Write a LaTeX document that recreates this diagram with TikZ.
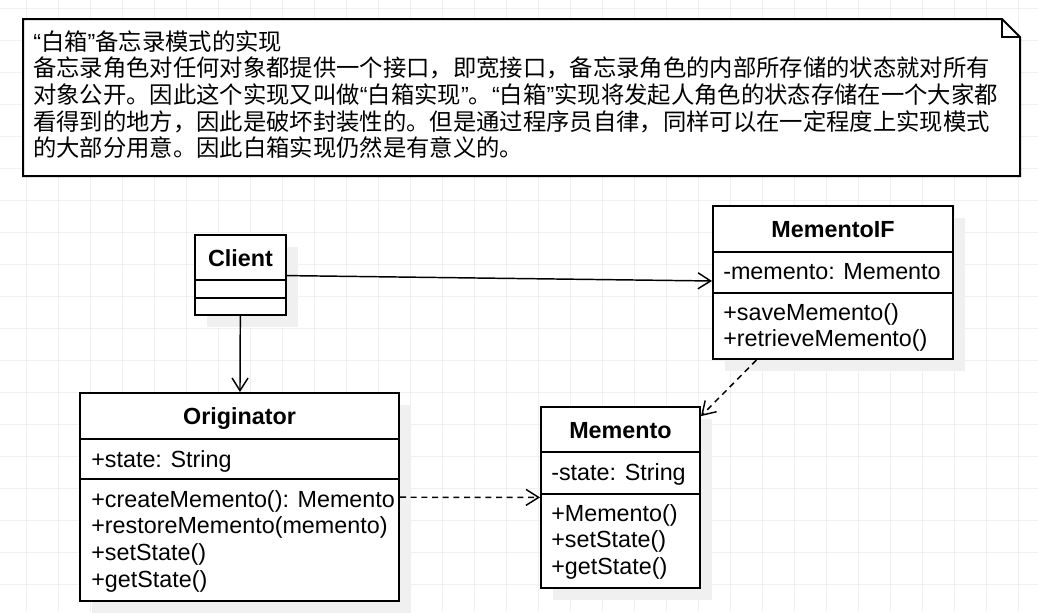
\documentclass[tikz,border=0pt]{standalone}
\usepackage{fontspec}
\setmainfont{Liberation Sans}
\newfontfamily\cjk{Noto Sans CJK SC}
\usetikzlibrary{arrows.meta, positioning, calc, shadows}
\newcommand{\openq}{{\normalfont “}}
\newcommand{\closeq}{{\normalfont ”}}

\begin{document}
\begin{tikzpicture}[x=0.75pt, y=-0.75pt, font=\fontsize{17.5}{20}\selectfont,
	gridline/.style={black!6, line width=0.75pt},
	classbox/.style={draw, fill=white, line width=1.5pt, inner sep=0pt,
		drop shadow={shadow xshift=9pt, shadow yshift=-9pt, opacity=1, fill=black!6}},
	sepline/.style={line width=1.5pt},
	member/.style={anchor=base west, inner sep=0pt},
	cname/.style={anchor=base, inner sep=0pt, font=\fontsize{17.5}{20}\selectfont\bfseries},
	assoc/.style={line width=1.1pt, -{Straight Barb[length=9.5pt, width=12pt]}},
	dep/.style={assoc, dash pattern=on 4.5pt off 3.5pt}]
	\useasboundingbox (0,0) rectangle (1038,612);
	% background grid (32px)
	\foreach \gx in {26,58,...,1018}
	\draw[gridline] (\gx,0) -- (\gx,612);
	\foreach \gy in {8,40,...,584}
	\draw[gridline] (0,\gy) -- (1038,\gy);
	% note with folded corner
	\draw[fill=white, line width=1.5pt] (23,19) -- (1002,19) -- (1020,37)
	-- (1020,176) -- (23,176) -- cycle;
	\draw[line width=1.5pt] (1002,19) -- (1002,37) -- (1020,37);
	\foreach \txt [count=\i] in {%
		\openq 白箱\closeq 备忘录模式的实现,
		备忘录角色对任何对象都提供一个接口，即宽接口，备忘录角色的内部所存储的状态就对所有,
		对象公开。因此这个实现又叫做\openq 白箱实现\closeq 。\openq 白箱\closeq 实现将发起人角色的状态存储在一个大家都,
		看得到的地方，因此是破坏封装性的。但是通过程序员自律，同样可以在一定程度上实现模式,
		的大部分用意。因此白箱实现仍然是有意义的。}
	\node[member, font=\fontsize{17.5}{20}\selectfont\cjk] (note\i) at (33,{50+26.7*(\i-1)}) {\txt};
	% Client
	\node[classbox, minimum width=68.25pt, minimum height=60pt] (client) at (240.5,275) {};
	\node[cname] (client-name) at (client.north |- 0,266) {Client};
	\draw[sepline] (client.west |- 0,280) -- (client.east |- 0,280);
	\draw[sepline] (client.west |- 0,298) -- (client.east |- 0,298);
	% MementoIF
	\node[classbox, minimum width=180pt, minimum height=114.75pt] (mif) at (833,282.5) {};
	\node[cname] (mif-name) at (mif.north |- 0,237) {MementoIF};
	\draw[sepline] (mif.west |- 0,252) -- (mif.east |- 0,252);
	\node[member] (mif-a1) at (723,279) {-memento: Memento};
	\draw[sepline] (mif.west |- 0,293) -- (mif.east |- 0,293);
	\foreach \m [count=\i] in {+saveMemento(), +retrieveMemento()}
	\node[member] (mif-m\i) at (723,{320+26.5*(\i-1)}) {\m};
	% Originator
	\node[classbox, minimum width=239.25pt, minimum height=156pt] (orig) at (239.5,497) {};
	\node[cname] (orig-name) at (orig.north |- 0,424) {Originator};
	\draw[sepline] (orig.west |- 0,439) -- (orig.east |- 0,439);
	\node[member] (orig-a1) at (91,467) {+state: String};
	\draw[sepline] (orig.west |- 0,479) -- (orig.east |- 0,479);
	\foreach \m [count=\i] in {+createMemento(): Memento, +restoreMemento(memento),
		+setState(), +getState()}
	\node[member] (orig-m\i) at (91,{507+26.7*(\i-1)}) {\m};
	% Memento
	\node[classbox, minimum width=119.25pt, minimum height=135.75pt] (memento) at (620.5,497.5) {};
	\node[cname] (memento-name) at (memento.north |- 0,438) {Memento};
	\draw[sepline] (memento.west |- 0,452) -- (memento.east |- 0,452);
	\node[member] (memento-a1) at (551,480) {-state: String};
	\draw[sepline] (memento.west |- 0,494) -- (memento.east |- 0,494);
	\foreach \m [count=\i] in {+Memento(), +setState(), +getState()}
	\node[member] (memento-m\i) at (551,{521+26.7*(\i-1)}) {\m};
	% connectors
	\draw[assoc] (client) -- (mif);
	\draw[assoc] (client) -- (orig);
	\draw[dep] (orig) -- (memento);
	\draw[dep] (mif) -- (memento);
\end{tikzpicture}
\end{document}
